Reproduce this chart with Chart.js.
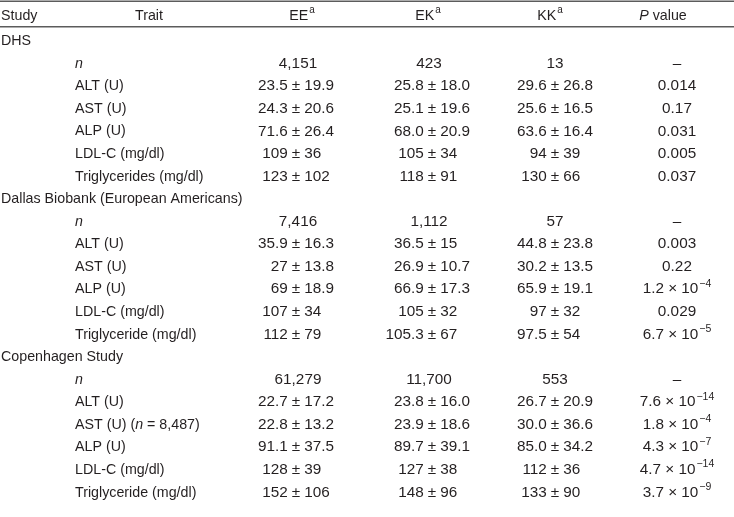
<!DOCTYPE html>
<html><head><meta charset="utf-8">
<script src="https://cdn.jsdelivr.net/npm/chart.js@4/dist/chart.umd.min.js"></script>
<style>html,body{margin:0;padding:0;background:#fff}#wrap{width:734px;height:517px;position:relative}</style>
</head><body><div id="wrap"><canvas id="c"></canvas></div>
<script>
// ---- data ----
const headers = ["Study", "Trait", "EE^a", "EK^a", "KK^a", "*P* value"];
const studies = ["DHS", "Dallas Biobank (European Americans)", "Copenhagen Study"];

const dhsTraits = ["*n*", "ALT (U)", "AST (U)", "ALP (U)", "LDL-C (mg/dl)", "Triglycerides (mg/dl)"];
const dhsEE = ["4,151", "23.5 ± 19.9", "24.3 ± 20.6", "71.6 ± 26.4", "109 ± 36", "123 ± 102"];
const dhsEK = ["423", "25.8 ± 18.0", "25.1 ± 19.6", "68.0 ± 20.9", "105 ± 34", "118 ± 91"];
const dhsKK = ["13", "29.6 ± 26.8", "25.6 ± 16.5", "63.6 ± 16.4", "94 ± 39", "130 ± 66"];
const dhsP = ["–", "0.014", "0.17", "0.031", "0.005", "0.037"];

const dallasTraits = ["*n*", "ALT (U)", "AST (U)", "ALP (U)", "LDL-C (mg/dl)", "Triglyceride (mg/dl)"];
const dallasEE = ["7,416", "35.9 ± 16.3", "27 ± 13.8", "69 ± 18.9", "107 ± 34", "112 ± 79"];
const dallasEK = ["1,112", "36.5 ± 15", "26.9 ± 10.7", "66.9 ± 17.3", "105 ± 32", "105.3 ± 67"];
const dallasKK = ["57", "44.8 ± 23.8", "30.2 ± 13.5", "65.9 ± 19.1", "97 ± 32", "97.5 ± 54"];
const dallasP = ["–", "0.003", "0.22", "1.2 × 10^−4", "0.029", "6.7 × 10^−5"];

const cphTraits = ["*n*", "ALT (U)", "AST (U) (*n* = 8,487)", "ALP (U)", "LDL-C (mg/dl)", "Triglyceride (mg/dl)"];
const cphEE = ["61,279", "22.7 ± 17.2", "22.8 ± 13.2", "91.1 ± 37.5", "128 ± 39", "152 ± 106"];
const cphEK = ["11,700", "23.8 ± 16.0", "23.9 ± 18.6", "89.7 ± 39.1", "127 ± 38", "148 ± 96"];
const cphKK = ["553", "26.7 ± 20.9", "30.0 ± 36.6", "85.0 ± 34.2", "112 ± 36", "133 ± 90"];
const cphP = ["–", "7.6 × 10^−14", "1.8 × 10^−4", "4.3 × 10^−7", "4.7 × 10^−14", "3.7 × 10^−9"];

// ---- layout (styles/positions, not data) ----
const FONT = '"Liberation Sans", Arial, sans-serif';
const TXT_FS = 15, TXT_SCALE = 0.95;     // letter text: slightly condensed
const NUM_FS = 15.3, NUM_SCALE = 1.0;    // numeric text
const SUP_FS = 10.5;
const TEXT_COLOR = '#231f20';
const RULE_COLOR = '#5c5c5c';
// column anchors on the x scale (0..734)
const colAnchor = { study: 1, trait: 75, ee: 296, ek: 432, kk: 555, p: 677 };
const countCenter = { ee: 298, ek: 429, kk: 555 };
const headAnchor = [1, 149, 302, 428, 550, 663];
const headRow = -1.11, ruleRows = [-1.76, -0.63];

// ---- build rows ----
const groups = [
  [dhsTraits, dhsEE, dhsEK, dhsKK, dhsP],
  [dallasTraits, dallasEE, dallasEK, dallasKK, dallasP],
  [cphTraits, cphEE, cphEK, cphKK, cphP]
];
const cols = { study: [], trait: [], ee: [], ek: [], kk: [], p: [] };
let r = 0;
studies.forEach((s, gi) => {
  cols.study.push({ row: r, text: s });
  r++;
  const [t, ee, ek, kk, p] = groups[gi];
  t.forEach((tr, i) => {
    cols.trait.push({ row: r, text: tr });
    cols.ee.push({ row: r, text: ee[i] });
    cols.ek.push({ row: r, text: ek[i] });
    cols.kk.push({ row: r, text: kk[i] });
    cols.p.push({ row: r, text: p[i] });
    r++;
  });
});

const alignMode = { study: 'left', trait: 'left', ee: 'pm', ek: 'pm', kk: 'pm', p: 'center' };
const numericCol = { ee: true, ek: true, kk: true, p: true };
const datasets = Object.keys(cols).map(k => ({
  label: k,
  colKey: k,
  texts: cols[k].map(c => c.text),
  data: cols[k].map(c => ({ x: colAnchor[k], y: c.row })),
  pointRadius: 0, pointHoverRadius: 0, showLine: false
}));
datasets.push({
  label: 'header', colKey: 'header', texts: headers,
  data: headers.map((h, i) => ({ x: headAnchor[i], y: headRow })),
  pointRadius: 0, pointHoverRadius: 0, showLine: false
});

// ---- rich text helpers ----
function parseRich(str) {
  const segs = [];
  let main = str, sup = null;
  const ci = str.indexOf('^');
  if (ci >= 0) { main = str.slice(0, ci); sup = str.slice(ci + 1); }
  const parts = main.split('*');
  parts.forEach((p, i) => { if (p) segs.push({ t: p, it: i % 2 === 1, sup: false }); });
  if (sup) segs.push({ t: sup, it: false, sup: true });
  return segs;
}
function segFont(s, fs) { return (s.it ? 'italic ' : '') + (s.sup ? SUP_FS : fs) + 'px ' + FONT; }
function drawRich(ctx, str, x, y, align, numeric) {
  const fs = numeric ? NUM_FS : TXT_FS;
  const hs = numeric ? NUM_SCALE : TXT_SCALE;
  const segs = parseRich(str);
  let w = 0;
  segs.forEach(s => { ctx.font = segFont(s, fs); s.w = ctx.measureText(s.t).width * hs; w += s.w + (s.sup ? 1 : 0); });
  let cx = align === 'left' ? x : align === 'right' ? x - w : x - w / 2;
  ctx.textAlign = 'left';
  ctx.textBaseline = 'middle';
  segs.forEach(s => {
    ctx.font = segFont(s, fs);
    if (s.sup) cx += 1;
    ctx.save();
    ctx.translate(cx, s.sup ? y - 5.5 : y);
    ctx.scale(hs, 1);
    ctx.fillText(s.t, 0, 0);
    ctx.restore();
    cx += s.w;
  });
}

const tablePlugin = {
  id: 'tableText',
  afterDatasetsDraw(chart) {
    const ctx = chart.ctx;
    const ys = chart.scales.y, xs = chart.scales.x;
    ctx.save();
    // rules
    ctx.strokeStyle = RULE_COLOR;
    ctx.lineWidth = 1.6;
    ruleRows.forEach(v => {
      const py = ys.getPixelForValue(v);
      ctx.beginPath();
      ctx.moveTo(xs.left, py); ctx.lineTo(xs.right, py); ctx.stroke();
    });
    ctx.fillStyle = TEXT_COLOR;
    chart.data.datasets.forEach((ds, di) => {
      const meta = chart.getDatasetMeta(di);
      meta.data.forEach((el, i) => {
        const txt = ds.texts[i];
        const x = el.x, y = el.y;
        if (ds.colKey === 'header') {
          drawRich(ctx, txt, x, y, i === 0 ? 'left' : 'center', false);
          return;
        }
        const mode = alignMode[ds.colKey];
        const num = !!numericCol[ds.colKey];
        if (mode === 'pm') {
          if (txt.indexOf(' ± ') >= 0) {
            const [a, b] = txt.split(' ± ');
            ctx.font = NUM_FS + 'px ' + FONT;
            const pmW = ctx.measureText('±').width;
            const gap = 4;
            drawRich(ctx, a, x - pmW / 2 - gap, y, 'right', true);
            drawRich(ctx, '±', x, y, 'center', true);
            drawRich(ctx, b, x + pmW / 2 + gap, y, 'left', true);
          } else {
            const cx = xs.getPixelForValue(countCenter[ds.colKey]);
            drawRich(ctx, txt, cx, y, 'center', true);
          }
        } else {
          drawRich(ctx, txt, x, y, mode, num);
        }
      });
    });
    ctx.restore();
  }
};

new Chart(document.getElementById('c'), {
  type: 'scatter',
  data: { datasets },
  options: {
    responsive: true,
    maintainAspectRatio: false,
    animation: false,
    layout: { padding: 0 },
    events: [],
    scales: {
      x: { type: 'linear', display: false, min: 0, max: 734 },
      y: { type: 'linear', display: false, min: -1.8166, max: 21.09, reverse: true }
    },
    plugins: { legend: { display: false }, tooltip: { enabled: false } }
  },
  plugins: [tablePlugin]
});
</script>
</body></html>
